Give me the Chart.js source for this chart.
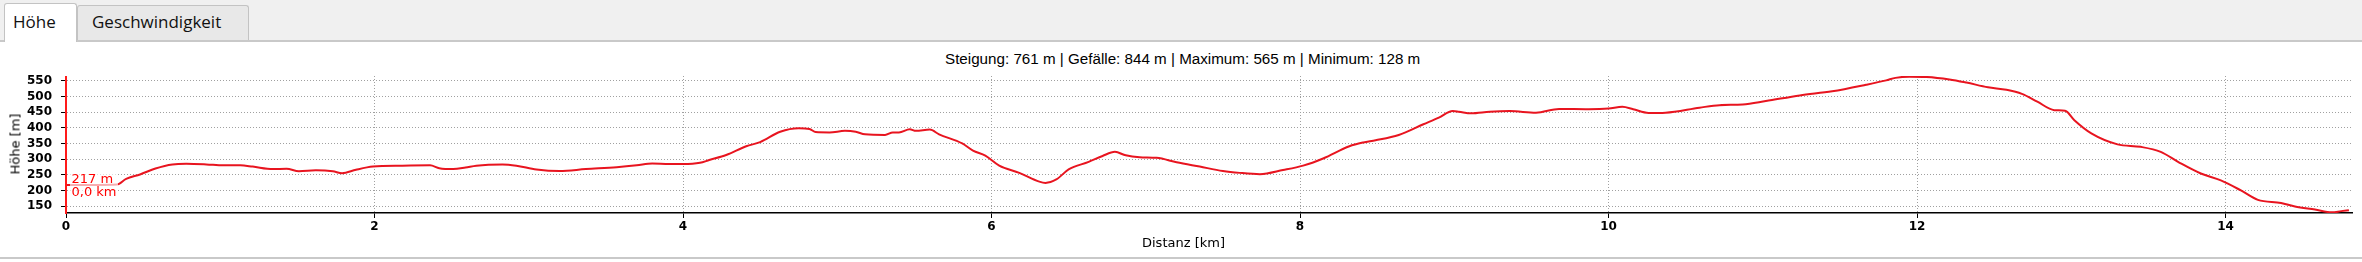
<!DOCTYPE html>
<html>
<head>
<meta charset="utf-8">
<title>Höhenprofil</title>
<script src="https://cdn.jsdelivr.net/npm/chart.js@4.4.1/dist/chart.umd.min.js"></script>
<style>
  html, body { margin: 0; padding: 0; background: #fff; }
  body { width: 2362px; height: 262px; position: relative; overflow: hidden; font-family: "Liberation Sans", Arial, sans-serif; }
  #tabbar { position: absolute; left: 0; top: 0; width: 2362px; height: 40px; background: #f0f0f0; border-bottom: 2px solid #c9c9c9; }
  .tab { position: absolute; box-sizing: border-box; font-family: "Open Sans", sans-serif; font-size: 17px; color: #111; white-space: nowrap;
         border: 1px solid #c3c3c3; border-bottom: none; border-radius: 3px 3px 0 0; }
  #tabHoehe { left: 4px; top: 3px; width: 73px; height: 39px; background: #fff; padding-left: 8px; line-height: 35px; z-index: 2; }
  #tabSpeed { left: 77px; top: 5px; width: 172px; height: 35px; background: #e8e8e8; padding-left: 14px; line-height: 31px; }
  #stats { position: absolute; left: 945px; top: 50px; font-size: 15.2px; line-height: 18px; color: #000; white-space: nowrap; }
  #chartBox { position: absolute; left: 0; top: 42px; width: 2362px; height: 215px; }
  #yTitle { position: absolute; left: 15px; top: 143.5px; font-family: "DejaVu Sans", sans-serif; font-size: 13px; line-height: 15px; color: #000; white-space: nowrap;
            transform: translate(-50%, -50%) rotate(-90deg); }
  #xTitle { position: absolute; left: 1142px; top: 235px; font-family: "DejaVu Sans", sans-serif; font-size: 13px; line-height: 16px; color: #000; white-space: nowrap; }
  #bottomLine { position: absolute; left: 0; top: 257px; width: 2362px; height: 2px; background: #c9c9c9; }
</style>
</head>
<body>
<div id="tabbar"></div>
<div class="tab" id="tabHoehe">Höhe</div>
<div class="tab" id="tabSpeed">Geschwindigkeit</div>
<div id="stats">Steigung: 761 m | Gefälle: 844 m | Maximum: 565 m | Minimum: 128 m</div>
<div id="chartBox"><canvas id="profileChart"></canvas></div>
<div id="yTitle">Höhe [m]</div>
<div id="xTitle">Distanz [km]</div>
<div id="bottomLine"></div>

<script>
// distance along the track (km) and elevation (m)
const distanceKm = [
  0.00, 0.33, 0.39, 0.48, 0.58, 0.69, 0.78, 0.91, 1.02, 1.13,
  1.21, 1.34, 1.43, 1.51, 1.62, 1.73, 1.79, 1.88, 1.99, 2.18,
  2.36, 2.42, 2.51, 2.59, 2.66, 2.83, 2.92, 3.05, 3.20, 3.37,
  3.57, 3.70, 3.80, 3.91, 4.00, 4.11, 4.17, 4.28, 4.41, 4.50,
  4.63, 4.75, 4.82, 4.86, 4.95, 5.05, 5.12, 5.18, 5.31, 5.36,
  5.40, 5.47, 5.51, 5.60, 5.66, 5.81, 5.88, 5.96, 6.05, 6.18,
  6.31, 6.35, 6.42, 6.50, 6.63, 6.72, 6.80, 6.87, 6.96, 7.07,
  7.20, 7.35, 7.50, 7.61, 7.74, 7.89, 8.02, 8.15, 8.32, 8.41,
  8.49, 8.64, 8.80, 8.90, 8.99, 9.03, 9.11, 9.23, 9.36, 9.53,
  9.68, 9.87, 10.00, 10.09, 10.16, 10.26, 10.37, 10.59, 10.72, 10.87,
  11.02, 11.24, 11.45, 11.67, 11.80, 11.86, 11.95, 12.06, 12.21, 12.32,
  12.46, 12.58, 12.68, 12.78, 12.89, 12.96, 13.02, 13.13, 13.30, 13.45,
  13.58, 13.70, 13.84, 13.97, 14.10, 14.21, 14.36, 14.45, 14.58, 14.69,
  14.75, 14.80
];
const elevationM = [
  217, 219, 237, 251, 270, 283, 285, 283, 280, 280,
  276, 268, 269, 261, 264, 261, 255, 266, 276, 279,
  280, 271, 268, 273, 279, 283, 279, 267, 262, 268,
  274, 280, 286, 284, 284, 288, 297, 313, 341, 354,
  387, 398, 396, 386, 385, 390, 387, 379, 377, 385,
  385, 395, 390, 394, 379, 350, 327, 311, 279, 256,
  228, 224, 235, 267, 291, 310, 323, 312, 306, 304,
  290, 276, 262, 256, 252, 265, 279, 302, 341, 353,
  360, 377, 411, 432, 453, 451, 446, 451, 453, 448,
  460, 459, 461, 467, 459, 447, 448, 464, 472, 474,
  485, 503, 516, 537, 551, 559, 563, 562, 554, 544,
  529, 521, 508, 483, 456, 454, 424, 382, 347, 339,
  323, 289, 254, 232, 200, 170, 160, 149, 139, 130,
  134, 137
];
const distanceTicks = [0, 2, 4, 6, 8, 10, 12, 14];
const elevationTicks = [150, 200, 250, 300, 350, 400, 450, 500, 550];
const distanceMax = 14.82;
const elevationMin = 128;
const elevationMax = 565;

// position marker shown at the start of the track
const cursorKm = 0;
const cursorHeightLabel = '217 m';
const cursorDistLabel = '0,0 km';

const cursorPlugin = {
  id: 'cursor',
  afterDatasetsDraw(chart) {
    const { ctx, chartArea, scales } = chart;
    const x = scales.x.getPixelForValue(cursorKm);
    const yv = scales.y.getPixelForValue(217);
    ctx.save();
    ctx.fillStyle = 'rgba(255,255,255,0.65)';
    ctx.fillRect(x + 4, yv - 13, 48, 26);
    ctx.strokeStyle = '#ff1a1a';
    ctx.lineWidth = 2;
    ctx.beginPath();
    ctx.moveTo(x, chartArea.top);
    ctx.lineTo(x, chartArea.bottom + 1);
    ctx.stroke();
    ctx.fillStyle = '#ff0000';
    ctx.font = '13px "DejaVu Sans"';
    ctx.textAlign = 'left';
    ctx.textBaseline = 'alphabetic';
    ctx.fillText(cursorHeightLabel, x + 5.5, yv - 2);
    ctx.fillText(cursorDistLabel, x + 5.5, yv + 11);
    ctx.restore();
  }
};

const points = distanceKm.map((d, i) => ({ x: d, y: elevationM[i] }));

new Chart(document.getElementById('profileChart'), {
  type: 'line',
  data: {
    datasets: [{
      label: 'Höhe',
      data: points,
      borderColor: '#e8141f',
      borderWidth: 2,
      pointRadius: 0,
      cubicInterpolationMode: 'monotone',
      fill: false
    }]
  },
  options: {
    responsive: true,
    maintainAspectRatio: false,
    animation: false,
    layout: { padding: { top: 34, right: 10, left: 0, bottom: 0 } },
    plugins: { legend: { display: false }, tooltip: { enabled: false } },
    scales: {
      x: {
        type: 'linear',
        min: 0,
        max: distanceMax,
        afterBuildTicks: (scale) => { scale.ticks = distanceTicks.map(v => ({ value: v })); },
        afterFit: (scale) => { scale.height = 44; },
        ticks: { autoSkip: false, maxRotation: 0, padding: 2, color: '#000',
                 font: { family: 'DejaVu Sans', size: 12, weight: 'bold' } },
        grid: { color: '#a0a0a0', lineWidth: 1, tickLength: 5, tickColor: '#000' },
        border: { color: '#000', width: 1.5, dash: [1, 2] }
      },
      y: {
        min: elevationMin,
        max: elevationMax,
        afterBuildTicks: (scale) => { scale.ticks = elevationTicks.map(v => ({ value: v })); },
        afterFit: (scale) => { scale.width = 66; },
        ticks: { autoSkip: false, padding: 9, color: '#000',
                 font: { family: 'DejaVu Sans', size: 12, weight: 'bold' } },
        grid: { color: '#a0a0a0', lineWidth: 1, tickLength: 5, tickColor: '#000' },
        border: { color: '#000', width: 1, dash: [1, 2] }
      }
    }
  },
  plugins: [cursorPlugin]
});
</script>
</body>
</html>
